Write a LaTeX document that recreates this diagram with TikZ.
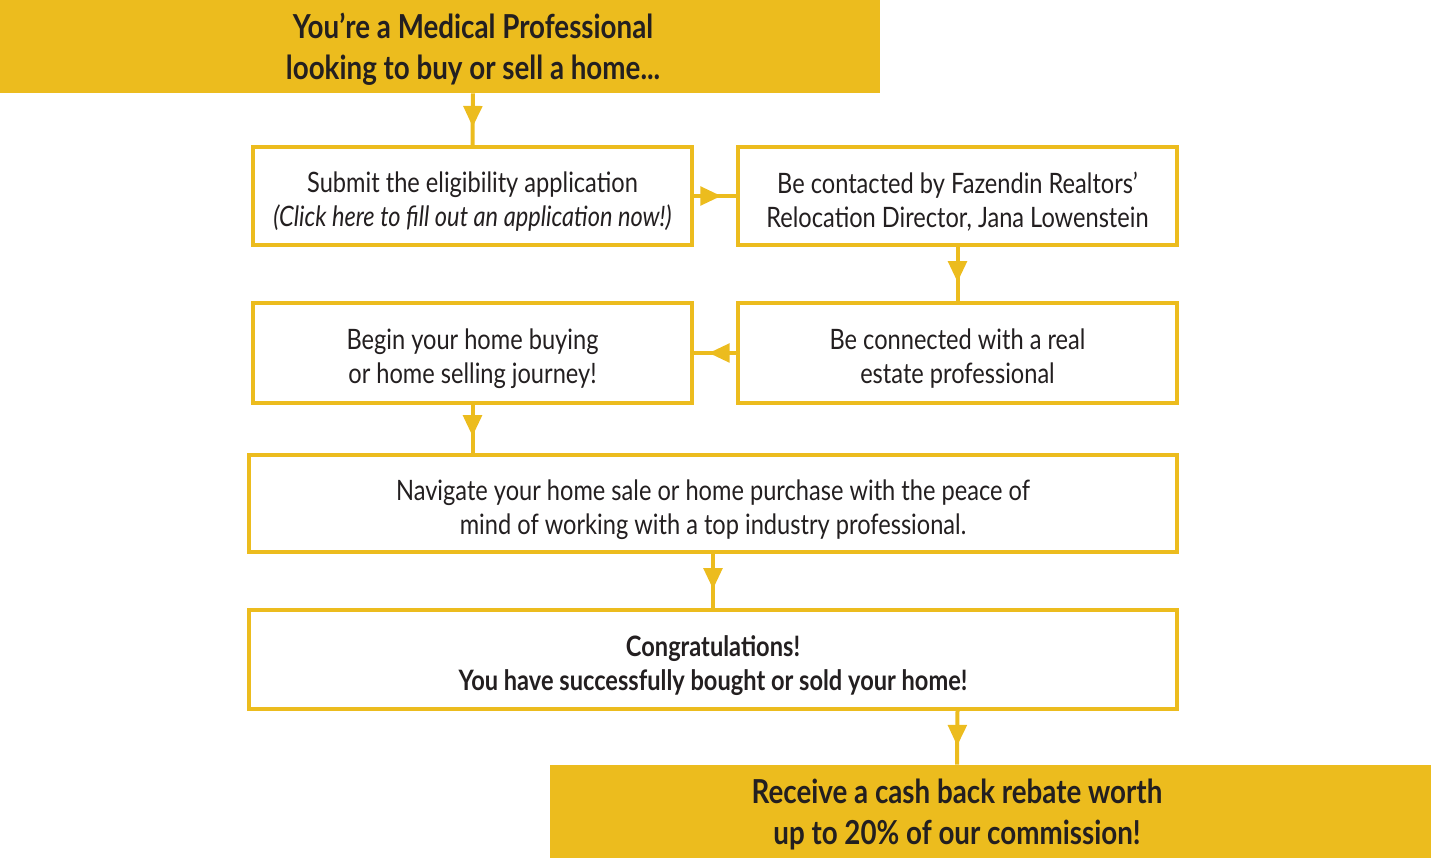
\documentclass[tikz,border=0pt]{standalone}
\usepackage{fontspec}
\setmainfont{Lato}[FakeStretch=0.84]
\usetikzlibrary{arrows.meta,decorations.markings}

\definecolor{gold}{RGB}{236,188,30}
\definecolor{ink}{RGB}{35,31,32}

\begin{document}
\begin{tikzpicture}[x=0.02cm,y=-0.02cm,
  box/.style={draw=gold, line width=0.08cm, fill=white, text=ink,
    align=center, minimum height=98*0.02cm, inner sep=0pt,
    font=\fontsize{16}{19.4}\selectfont, text height=1.33cm},
  banner/.style={text=ink, align=center, minimum height=93*0.02cm,
    inner sep=0pt, font=\fontsize{18.8}{23.3}\selectfont\bfseries,
    text height=1.42cm},
  flow/.style={draw=gold, line width=0.08cm,
    postaction={decorate},
    decoration={markings, mark=at position 0.65 with
      {\arrow{Triangle[length=0.42cm,width=0.37cm]}}},
    color=gold}]

\useasboundingbox (0,0) rectangle (1431,858);

% Banners
\fill[gold] (0,0) rectangle (880,93);
\node[banner] (start) at (473,46.5)
{You’re a Medical Professional\\looking to buy or sell a home...};

\fill[gold] (550,765) rectangle (1431,858);
\node[banner] (rebate) at (957,811.5)
{Receive a cash back rebate worth\\up to 20\% of our commission!};

% Steps
\node[box, minimum width=439*0.02cm] (submit) at (472.5,196)
{Submit the eligibility application\\
{\itshape (Click here to fill out an application now!)}};

\node[box, minimum width=439*0.02cm] (contact) at (957.5,196)
{Be contacted by Fazendin Realtors’\\Relocation Director, Jana Lowenstein};

\node[box, minimum width=439*0.02cm, minimum height=100*0.02cm] (begin) at (472.5,353)
{Begin your home buying\\or home selling journey!};

\node[box, minimum width=439*0.02cm, minimum height=100*0.02cm] (connect) at (957.5,353)
{Be connected with a real\\estate professional};

\node[box, minimum width=928*0.02cm, minimum height=97*0.02cm] (navigate) at (713,503.5)
{Navigate your home sale or home purchase with the peace of\\
mind of working with a top industry professional.};

\node[box, minimum width=928*0.02cm, minimum height=99*0.02cm] (congrats) at (713,659.5)
{\bfseries Congratulations!\\\bfseries You have successfully bought or sold your home!};

% Connectors
\draw[flow] (start.south) -- (submit.north);
\draw[flow] (submit.east) -- (contact.west);
\draw[flow] (contact.south) -- (connect.north);
\draw[flow] (connect.west) -- (begin.east);
\draw[flow] (begin.south) -- (begin.south |- navigate.north);
\draw[flow] (navigate.south) -- (congrats.north);
\draw[flow] (contact.south |- congrats.south) -- (rebate.north);

\end{tikzpicture}
\end{document}
